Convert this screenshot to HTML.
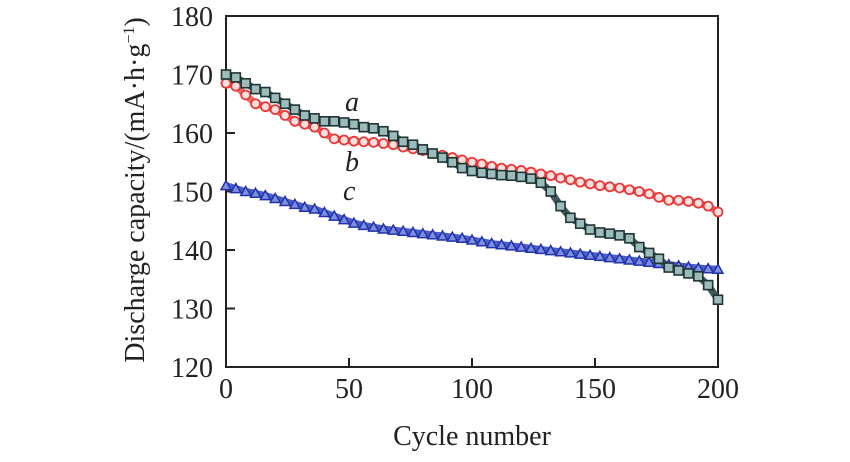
<!DOCTYPE html>
<html><head><meta charset="utf-8"><style>
body{margin:0;background:#fff;}
svg{display:block;font-family:"Liberation Serif",serif;}
</style></head><body>
<svg id="chart" width="850" height="462">
<rect x="226" y="16" width="492" height="351" fill="none" stroke="#222" stroke-width="2"/>
<g id="ticks"></g>
<g id="series"></g>
<text x="144" y="190" font-size="28" text-anchor="middle" transform="rotate(-90 144 190)" fill="#222">Discharge capacity/(mA·h·g<tspan dy="-10" font-size="16">−1</tspan><tspan dy="10">)</tspan></text>
<text x="472" y="445" font-size="28" text-anchor="middle" fill="#222">Cycle number</text>
<text x="345" y="111" font-size="28" font-style="italic" fill="#222">a</text>
<text x="345" y="171" font-size="28" font-style="italic" fill="#222">b</text>
<text x="343" y="200" font-size="28" font-style="italic" fill="#222">c</text>
</svg>
<script>
const cycles = [0,4,8,12,16,20,24,28,32,36,40,44,48,52,56,60,64,68,72,76,80,84,88,92,96,100,104,108,112,116,120,124,128,132,136,140,144,148,152,156,160,164,168,172,176,180,184,188,192,196,200];
const seriesA = [170,169.5,168.5,167.5,167,166,165,164,163,162.5,162,162,161.8,161.5,161,160.8,160.3,159.5,158.5,158,157.2,156.5,155.8,155,154,153.5,153.2,153,152.8,152.7,152.5,152.2,151.5,150,147.5,145.5,144.5,143.5,143,142.8,142.5,142,140.5,139.5,138.5,137,136.5,136,135.5,134,131.5];
const seriesB = [168.5,168,166.5,165,164.5,164,163,162,161.5,161,160,159,158.8,158.6,158.5,158.4,158.2,158,157.6,157.3,157,156.5,156.2,155.8,155.4,155,154.7,154.3,154,153.8,153.6,153.3,153,152.7,152.3,152,151.6,151.3,151,150.8,150.6,150.3,150,149.6,149,148.5,148.5,148.3,148,147.5,146.5];
const seriesC = [151,150.5,150,149.7,149.3,148.8,148.3,147.8,147.3,147,146.4,145.8,145.2,144.6,144.2,143.9,143.6,143.4,143.2,143,142.8,142.6,142.4,142.2,142,141.7,141.4,141.1,140.9,140.7,140.5,140.3,140.1,139.9,139.7,139.5,139.3,139.1,138.9,138.7,138.5,138.3,138.1,137.9,137.7,137.5,137.3,137.1,136.9,136.8,136.7];
const xTicks = [0,50,100,150,200];
const yTicks = [120,130,140,150,160,170,180];

const NS = 'http://www.w3.org/2000/svg';
const X = v => 226 + v/200*492;
const Y = v => 367 - (v-120)/60*351;
const tg = document.getElementById('ticks');
const sg = document.getElementById('series');
function mk(tag, attrs, parent){const e=document.createElementNS(NS,tag);for(const k in attrs)e.setAttribute(k,attrs[k]);parent.appendChild(e);return e;}

xTicks.forEach(t=>{
  const l = mk('line',{x1:X(t),x2:X(t),y1:367,y2:358,stroke:'#222','stroke-width':2},tg);
  
  
  const tx = mk('text',{x:X(t),y:398,'font-size':28,'text-anchor':'middle',fill:'#222'},tg);
  tx.textContent = t;
  
  
});
yTicks.forEach(t=>{
  const l = mk('line',{x1:226,x2:235,y1:Y(t),y2:Y(t),stroke:'#222','stroke-width':2},tg);
  
  
  const tx = mk('text',{x:213,y:Y(t)+10,'font-size':28,'text-anchor':'end',fill:'#222'},tg);
  tx.textContent = t;
  
  
});

function band(vals, color, name){
  const pts = cycles.map((c,i)=>X(c)+','+Y(vals[i])).join(' ');
  const pl = mk('polyline',{points:pts,fill:'none',stroke:color,'stroke-width':7,'stroke-linejoin':'round'},sg);
  
  
}
band(seriesC,'#4a5cc8','series-c-band');
band(seriesB,'#ef6a6a','series-b-band');

cycles.forEach((c,i)=>{
  const x=X(c), y=Y(seriesC[i]);
  const p = mk('polygon',{points:`${x-5},${y+4} ${x+5},${y+4} ${x},${y-5}`,fill:'#7f8fe0',stroke:'#2233aa','stroke-width':1.5},sg);
  
  
});
cycles.forEach((c,i)=>{
  const p = mk('circle',{cx:X(c),cy:Y(seriesB[i]),r:4.5,fill:'#fbe0e0',stroke:'#e83838','stroke-width':1.8},sg);
  
  
});
band(seriesA,'#3e5a5a','series-a-band');
cycles.forEach((c,i)=>{
  const p = mk('rect',{x:X(c)-4.5,y:Y(seriesA[i])-4.5,width:9,height:9,fill:'#9cbcbc',stroke:'#1f3434','stroke-width':1.6},sg);
  
  
});
</script>
</body></html>
